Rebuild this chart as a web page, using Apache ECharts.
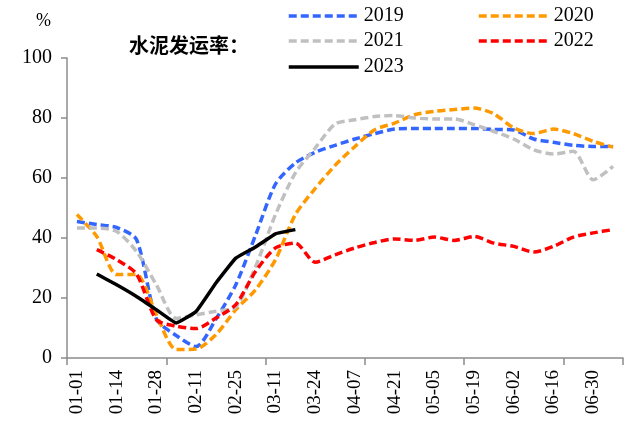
<!DOCTYPE html>
<html>
<head>
<meta charset="utf-8">
<script src="https://cdn.jsdelivr.net/npm/echarts@6/dist/echarts.min.js"></script>
<style>
  html, body { margin: 0; padding: 0; background: #fff; }
  #chart { width: 629px; height: 428px; }
</style>
</head>
<body>
<div id="chart"></div>
<script>
// Weekly dates (every other one is labelled on the axis)
const dates = [
  '01-01', '01-07', '01-14', '01-21', '01-28', '02-04', '02-11', '02-18',
  '02-25', '03-04', '03-11', '03-17', '03-24', '03-31', '04-07', '04-14',
  '04-21', '04-28', '05-05', '05-12', '05-19', '05-26', '06-02', '06-09',
  '06-16', '06-23', '06-30', '07-07'
];

// Cement shipment rate, %
const rate2019 = [45.5, 44.5, 43.5, 39.5, 13.0, 7.5, 3.8, 13.0, 24.4, 41.0, 58.0, 65.0,
                  68.6, 70.9, 73.0, 74.8, 76.3, 76.5, 76.5, 76.5, 76.5, 76.2, 76.0, 73.0,
                  71.9, 70.9, 70.5, 70.5];
const rate2020 = [47.8, 40.5, 27.8, 27.8, 14.4, 2.8, 3.0, 7.8, 16.1, 22.8, 32.8, 47.8,
                  56.5, 64.2, 70.5, 76.1, 78.3, 81.1, 82.2, 82.8, 83.3, 81.4, 76.7, 74.8,
                  76.3, 74.8, 72.2, 70.3];
const rate2021 = [43.3, 43.3, 42.2, 35.5, 24.4, 13.2, 14.4, 15.6, 17.0, 30.5, 47.8, 61.7,
                  70.0, 78.0, 79.4, 80.5, 80.8, 80.0, 79.7, 79.7, 77.8, 75.5, 73.0, 69.4,
                  68.0, 68.9, 59.4, 63.9];
const rate2022 = [null, 36.1, 32.8, 28.0, 12.8, 10.6, 9.8, 13.3, 17.8, 28.9, 36.7, 38.3,
                  31.9, 34.4, 36.7, 38.5, 39.7, 39.2, 40.3, 39.2, 40.5, 38.3, 37.2, 35.3,
                  37.2, 40.3, 41.7, 42.8];
const rate2023 = [null, 28.0, 24.4, 20.5, 16.1, 11.7, 15.5, 25.0, 33.3, 37.0, 41.4, 42.8,
                  null, null, null, null, null, null, null, null, null, null, null, null,
                  null, null, null, null];

const yTicks = { min: 0, max: 100, step: 20 };

const serif = '"Liberation Serif", "Times New Roman", serif';
const dash = [8, 4];

function lineSeries(name, data, color, type, smooth) {
  return {
    name: name,
    type: 'line',
    data: data,
    symbol: 'none',
    smooth: smooth,
    connectNulls: false,
    lineStyle: { color: color, width: 3.5, type: type },
    itemStyle: { color: color },
    z: name === '2023' ? 5 : 3
  };
}

function legendAt(name, left, top) {
  return {
    data: [name],
    left: left,
    top: top,
    padding: 0,
    itemGap: 0,
    itemWidth: 70,
    itemHeight: 20,
    itemStyle: { opacity: 0 },
    lineStyle: { width: 3.5 },
    textStyle: { fontFamily: serif, fontSize: 20, color: '#000' }
  };
}

const chart = echarts.init(document.getElementById('chart'), null, { renderer: 'canvas' });

chart.setOption({
  animation: false,
  backgroundColor: '#fff',
  grid: {
    left: 67, top: 58, width: 556, height: 300,
    containLabel: false, outerBoundsMode: 'none'
  },
  legend: [
    legendAt('2019', 287, 6),
    legendAt('2020', 477, 6),
    legendAt('2021', 287, 31),
    legendAt('2022', 477, 31),
    legendAt('2023', 287, 57)
  ],
  graphic: [
    {
      type: 'text', left: 36, top: 12,
      style: { text: '%', fontFamily: serif, fontSize: 18, fill: '#000' }
    },
    {
      type: 'text', left: 129, top: 35,
      style: {
        text: '水泥发运率：', fontFamily: '"Noto Sans CJK SC", sans-serif',
        fontSize: 20, fontWeight: 'bold', fill: '#000'
      }
    }
  ],
  xAxis: {
    type: 'category',
    data: dates,
    boundaryGap: true,
    axisLine: { show: true, lineStyle: { color: '#8c8c8c', width: 1.5 } },
    axisTick: { show: true, interval: 4, length: 7, lineStyle: { color: '#8c8c8c', width: 1.5 } },
    axisLabel: {
      interval: 1, rotate: 90, margin: 12,
      fontFamily: serif, fontSize: 19, color: '#000'
    },
    splitLine: { show: false }
  },
  yAxis: {
    type: 'value',
    min: yTicks.min, max: yTicks.max, interval: yTicks.step,
    axisLine: { show: true, lineStyle: { color: '#8c8c8c', width: 1.5 } },
    axisTick: { show: true, length: 6, lineStyle: { color: '#8c8c8c', width: 1.5 } },
    axisLabel: { margin: 15, fontFamily: serif, fontSize: 20, color: '#000' },
    splitLine: { show: false }
  },
  series: [
    lineSeries('2019', rate2019, '#3366ff', dash, 0.25),
    lineSeries('2020', rate2020, '#ff9900', dash, 0.25),
    lineSeries('2021', rate2021, '#c0c0c0', dash, 0.25),
    lineSeries('2022', rate2022, '#ff0000', dash, 0.25),
    lineSeries('2023', rate2023, '#000000', 'solid', 0.1)
  ]
});
</script>
</body>
</html>
